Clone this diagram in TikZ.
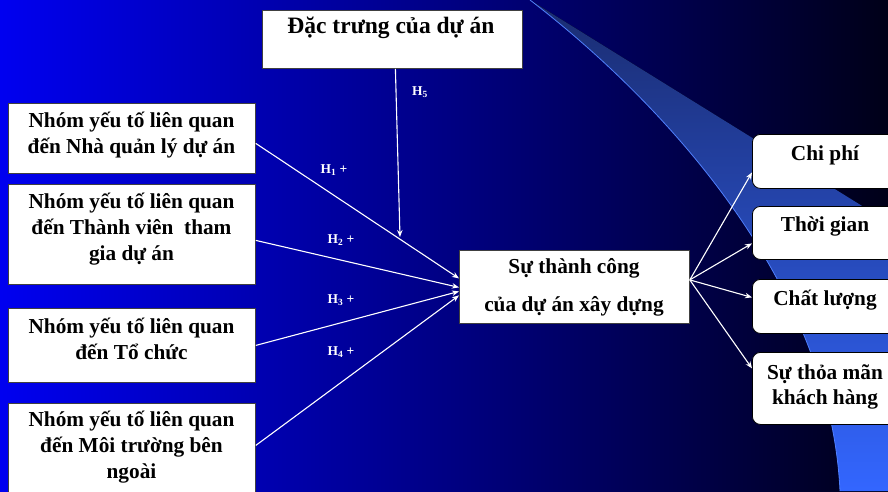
\documentclass[tikz,border=0pt]{standalone}
\usepackage{fontspec}
\setmainfont{Liberation Serif}
\usetikzlibrary{arrows.meta}
\definecolor{bgL}{HTML}{0000F0}
\definecolor{bgM}{HTML}{0000A6}
\definecolor{bgR}{HTML}{000018}
\definecolor{swA}{HTML}{1A2C70}
\definecolor{swB}{HTML}{3362F4}
\definecolor{swC}{HTML}{3366FF}
\definecolor{swEdge}{HTML}{4F7FFF}
\tikzset{
  lbox/.style={draw=black!75, fill=white, line width=0.8pt, minimum width=247pt, anchor=north west, inner sep=0pt},
  rbox/.style={draw=black, fill=white, rounded corners=8pt, line width=0.8pt, minimum width=146pt, anchor=north west, inner sep=0pt},
  txt/.style={font=\bfseries\fontsize{21.3}{26}\selectfont, align=center, text=black, inner sep=0pt},
  arr/.style={draw=white, line width=1.1pt, -{Stealth[length=7pt,width=5.5pt]}},
  hl/.style={text=white, font=\bfseries\fontsize{13.5}{15}\selectfont, inner sep=0pt}
}
\begin{document}
\begin{tikzpicture}[x=1pt,y=-1pt]
\useasboundingbox (0,0) rectangle (888,491);
% background
\fill[left color=bgL, middle color=bgM, right color=bgR] (0,0) rectangle (888,491);
% swoosh
\fill[top color=swA, middle color=swB, bottom color=swC]
  (530,0) -- (888,222) -- (888,491) -- (840,491) .. controls (830,280) and (660,100) .. (530,0);
\draw[swEdge, line width=0.8pt] (530,0) .. controls (660,100) and (830,280) .. (840,491);
% boxes
\node[lbox, minimum width=260pt, minimum height=58pt] (top) at (262,10) {};
\node[txt, font=\bfseries\fontsize{23.5}{26}\selectfont] (ttop) at (391,28) {Đặc trưng của dự án};
\node[lbox, minimum height=70pt] (b1) at (8,103) {};
\node[txt] (t1) at (131.5,135) {Nhóm yếu tố liên quan\\đến Nhà quản lý dự án};
\node[lbox, minimum height=100pt] (b2) at (8,184) {};
\node[txt] (t2) at (131.5,229) {Nhóm yếu tố liên quan\\đến Thành viên\ \ tham\\gia dự án};
\node[lbox, minimum height=74pt] (b3) at (8,308) {};
\node[txt] (t3) at (131.5,339) {Nhóm yếu tố liên quan\\đến Tổ chức};
\node[lbox, minimum height=100pt] (b4) at (8,403) {};
\node[txt] (t4) at (131.5,447) {Nhóm yếu tố liên quan\\đến Môi trường bên\\ngoài};
\node[lbox, minimum width=230pt, minimum height=73pt] (c) at (459,250) {};
\node[txt, font=\bfseries\fontsize{21.3}{38}\selectfont] (tc) at (574,287) {Sự thành công\\của dự án xây dựng};
\node[rbox, minimum height=54pt] (r1) at (752,134) {};
\node[txt] (tr1) at (825,155) {Chi phí};
\node[rbox, minimum height=53pt] (r2) at (752,206) {};
\node[txt] (tr2) at (825,226) {Thời gian};
\node[rbox, minimum height=54pt] (r3) at (752,279) {};
\node[txt] (tr3) at (825,300) {Chất lượng};
\node[rbox, minimum height=72pt] (r4) at (752,352) {};
\node[txt, font=\bfseries\fontsize{21.3}{25}\selectfont] (tr4) at (825,387) {Sự thỏa mãn\\khách hàng};
% arrows
\coordinate (h5end) at (400,237);
\draw[arr] ([xshift=3pt]top.south) -- (h5end);
\draw[arr] ([yshift=-5pt]b1.east) -- ([yshift=8.5pt]c.west);
\draw[arr] ([yshift=-6pt]b2.east) -- ([yshift=-0.5pt]c.west);
\draw[arr] (b3.east) -- ([yshift=-4.5pt]c.west);
\draw[arr] ([yshift=8pt]b4.east) -- ([yshift=-8.5pt]c.west);
\draw[arr] ([yshift=7pt]c.east) -- ([yshift=-11pt]r1.west);
\draw[arr] ([yshift=7pt]c.east) -- ([yshift=-10.5pt]r2.west);
\draw[arr] ([yshift=7pt]c.east) -- ([yshift=9pt]r3.west);
\draw[arr] ([yshift=7pt]c.east) -- ([yshift=20pt]r4.west);
% labels
\node[hl] (l5) at (420,92) {H\textsubscript{5}};
\node[hl] (l1) at (334,170) {H\textsubscript{1} +};
\node[hl] (l2) at (341,240) {H\textsubscript{2} +};
\node[hl] (l3) at (341,300) {H\textsubscript{3} +};
\node[hl] (l4) at (341,352) {H\textsubscript{4} +};
\end{tikzpicture}
\end{document}
